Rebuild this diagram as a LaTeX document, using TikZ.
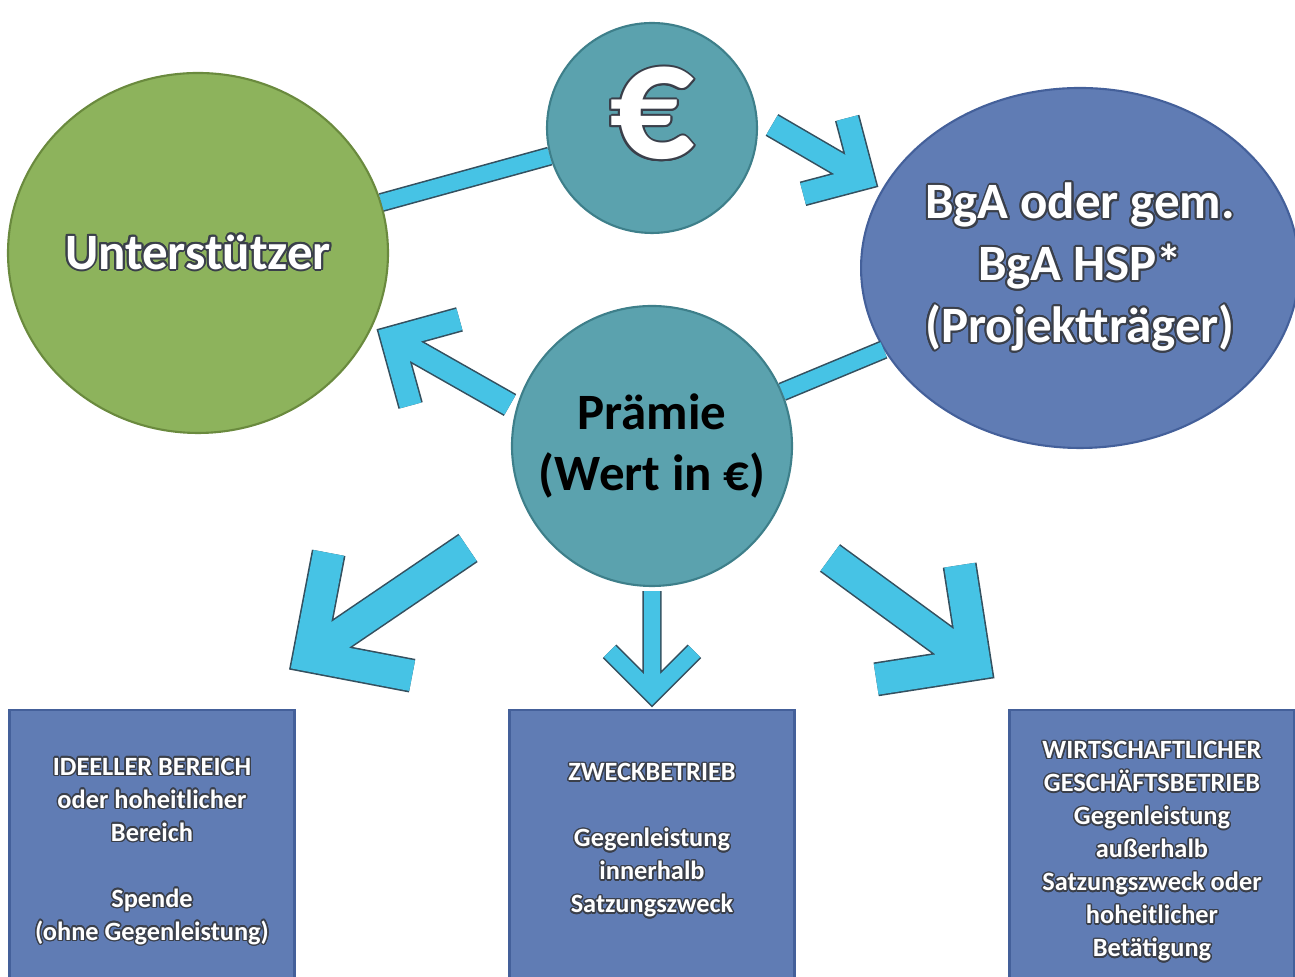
\documentclass[tikz,border=0pt]{standalone}
\usepackage{fontspec}
\setmainfont{Carlito}
\usepackage[copies]{contour}
\usetikzlibrary{shapes.geometric,calc}

\definecolor{leafgreen}{HTML}{8DB35C}
\definecolor{leafedge}{HTML}{6A8A3E}
\definecolor{tealfill}{HTML}{5BA2AE}
\definecolor{tealedge}{HTML}{3E7F8A}
\definecolor{slateblue}{HTML}{607CB4}
\definecolor{slateedge}{HTML}{44609A}
\definecolor{arrowblue}{HTML}{46C3E5}
\definecolor{arrowedge}{HTML}{34505F}
\definecolor{txtedge}{HTML}{3A3F4A}

\contourlength{0.55pt}
\newcommand{\wl}[1]{\contour{txtedge}{#1}}

\begin{document}
\begin{tikzpicture}[thick, node distance=5cm,
  main_node/.style={circle,draw,line width=0.6pt,align=center,inner sep=0pt,
    font=\fontsize{14.5}{17.6}\selectfont\bfseries},
  box_node/.style={rectangle,draw=slateedge,fill=slateblue,line width=0.7pt,
    minimum width=2.85cm,minimum height=2.84cm,align=center,text=white,
    font=\fontsize{7.5}{9.4}\selectfont\bfseries\contourlength{0.4pt}},
  arrow_line/.style={draw=arrowblue,line width=#1,line join=miter,
    preaction={draw=arrowedge,line width=#1+0.9pt}}]

  \useasboundingbox (0,0) rectangle (12.95,-9.77);
  \clip (0,0) rectangle (12.95,-9.77);

  \node[main_node,fill=tealfill,draw=tealedge,minimum size=2.8cm] (praemie) at (6.52,-4.46) {Prämie\\(Wert in €)};
  \node[main_node,fill=tealfill,draw=tealedge,minimum size=2.1cm,
    font=\fontsize{48}{48}\selectfont\bfseries,text=white,text depth=8.5pt]
    (euro) [above of=praemie, node distance=3.18cm] {\wl{€}};
  \node[main_node,ellipse,fill=leafgreen,draw=leafedge,minimum width=3.8cm,
    minimum height=3.6cm,text=white] (supp) at (1.98,-2.53) {\wl{Unterstützer}};
  \node[main_node,ellipse,fill=slateblue,draw=slateedge,minimum width=4.28cm,
    minimum height=3.6cm,text=white] (bga) at (10.80,-2.68)
    {\wl{BgA oder gem.}\\\wl{BgA HSP*}\\\wl{(Projektträger)}};

  \node[box_node] (zweck) [below of=praemie, node distance=4.06cm]
    {\wl{ZWECKBETRIEB}\\[9.4pt]\wl{Gegenleistung}\\\wl{innerhalb}\\\wl{Satzungszweck}\\[-1.5pt]\mbox{}};
  \node[box_node] (ideell) [left of=zweck]
    {\wl{IDEELLER BEREICH}\\\wl{oder hoheitlicher}\\\wl{Bereich}\\[9.4pt]\wl{Spende}\\\wl{(ohne Gegenleistung)}};
  \node[box_node] (wgb) [right of=zweck]
    {\wl{WIRTSCHAFTLICHER}\\\wl{GESCHÄFTSBETRIEB}\\\wl{Gegenleistung}\\\wl{außerhalb}\\\wl{Satzungszweck oder}\\\wl{hoheitlicher}\\\wl{Betätigung}};

  % plain links
  \path[arrow_line=1.6mm] (supp) -- (euro) (praemie) -- (bga);

  % open chevron arrows
  \coordinate (a1t) at (7.72,-1.25);
  \coordinate (a1h) at (8.63,-1.78);
  \coordinate (a2t) at (5.10,-4.05);
  \coordinate (a2h) at (3.92,-3.38);
  \coordinate (a3t) at (4.68,-5.48);
  \coordinate (a3h) at (3.09,-6.56);
  \coordinate (a4t) at ($(praemie.south)+(0,-0.04)$);
  \coordinate (a4h) at ($(zweck.north)+(0,0.15)$);
  \coordinate (a5t) at (8.30,-5.58);
  \coordinate (a5h) at (9.75,-6.64);

  \path[arrow_line=2.2mm] (a1t) -- (a1h) ($(a1h)!6.2mm!45:(a1t)$) -- (a1h) -- ($(a1h)!6.2mm!-45:(a1t)$);
  \path[arrow_line=2.2mm] (a2t) -- (a2h) ($(a2h)!7mm!45:(a2t)$) -- (a2h) -- ($(a2h)!7mm!-45:(a2t)$);
  \path[arrow_line=3.1mm] (a3t) -- (a3h) ($(a3h)!10.5mm!45:(a3t)$) -- (a3h) -- ($(a3h)!10.5mm!-45:(a3t)$);
  \path[arrow_line=1.6mm] (a4t) -- (a4h) ($(a4h)!6mm!45:(a4t)$) -- (a4h) -- ($(a4h)!6mm!-45:(a4t)$);
  \path[arrow_line=3.1mm] (a5t) -- (a5h) ($(a5h)!10mm!45:(a5t)$) -- (a5h) -- ($(a5h)!10mm!-45:(a5t)$);
\end{tikzpicture}
\end{document}
